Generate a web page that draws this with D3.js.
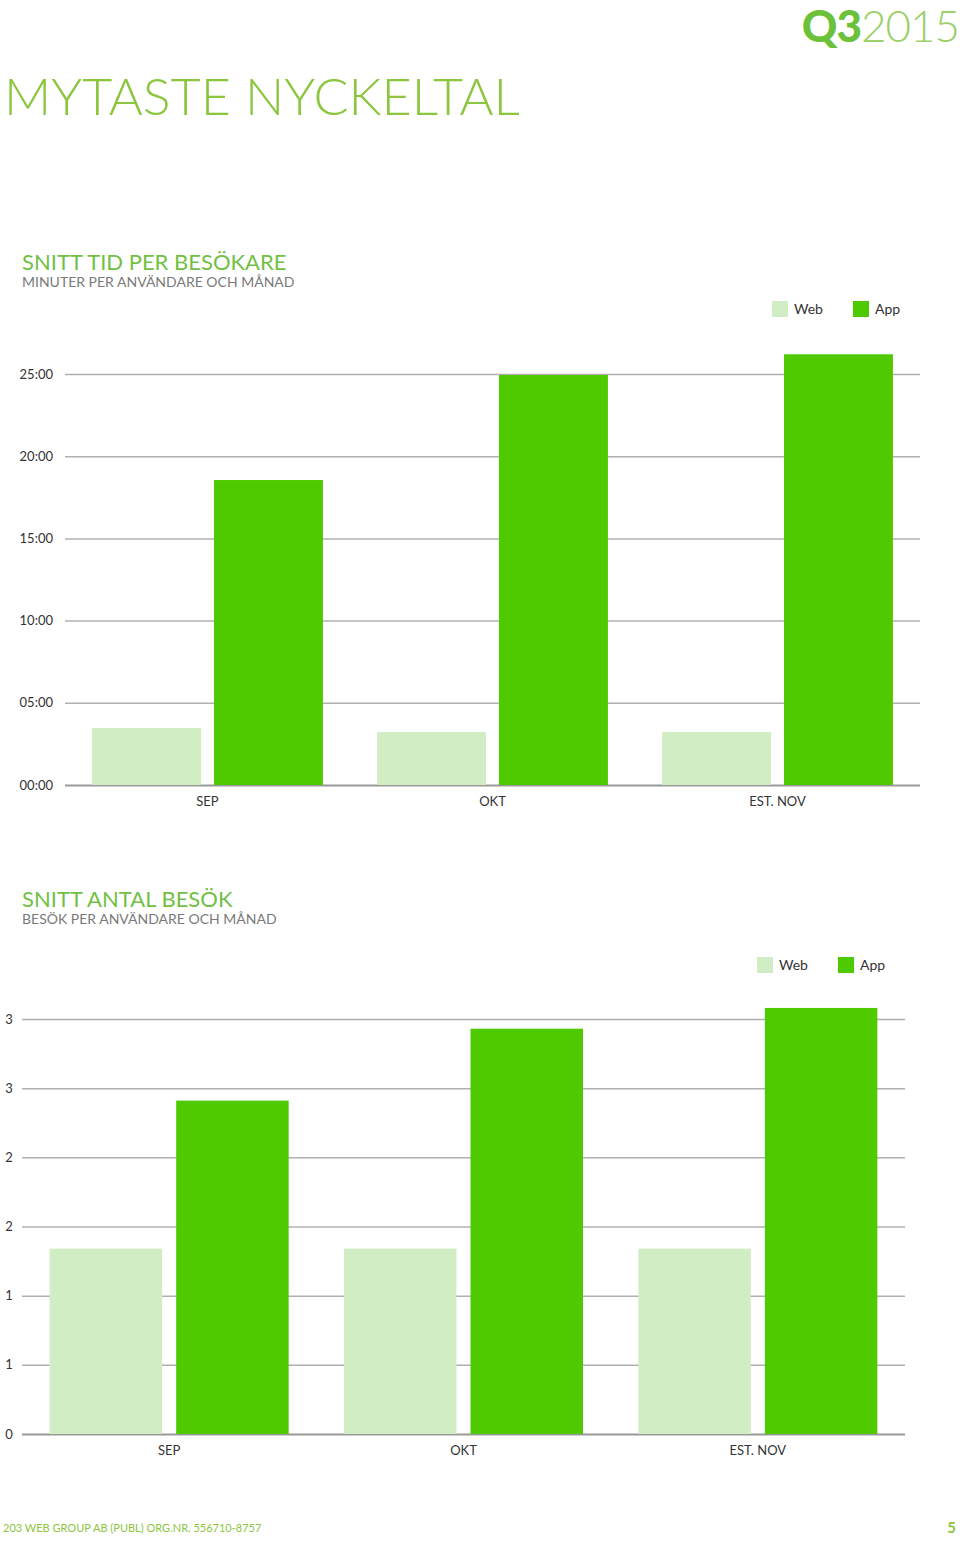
<!DOCTYPE html>
<html>
<head>
<meta charset="utf-8">
<script src="https://cdn.jsdelivr.net/npm/d3@7"></script>
<style>
  body { margin: 0; background: #fff; }
  svg { display: block; font-family: Lato, "Open Sans", sans-serif; }
</style>
</head>
<body>
<svg id="page" width="960" height="1541"></svg>
<script>
// data
const months = ["SEP", "OKT", "EST. NOV"];
const seriesNames = ["Web", "App"];

// chart 1: minutes per user and month
const timeWeb = [3.47, 3.22, 3.22];
const timeApp = [18.55, 24.94, 26.2];
const timeTicks = [0, 5, 10, 15, 20, 25];

// chart 2: visits per user and month
const visitWeb = [1.34, 1.34, 1.34];
const visitApp = [2.41, 2.93, 3.08];
const visitTicks = [0, 0.5, 1, 1.5, 2, 2.5, 3];

const WEB = "#d0edc4", APP = "#4fc900", TITLE = "#8cc63f", HEAD = "#72bf44";

const svg = d3.select("#page");

// header
const q = svg.append("text").attr("x", 959).attr("y", 42).attr("text-anchor", "end")
    .style("font-size", "44px").style("letter-spacing", "-1px");
q.append("tspan").style("font-weight", "900").style("fill", "#6cc13a").text("Q3");
q.append("tspan").style("font-weight", "300").style("fill", "#9bd06b").text("2015");

svg.append("text").attr("x", 4).attr("y", 115)
    .style("font-size", "52px").style("font-weight", "300").style("fill", TITLE)
    .text("MYTASTE NYCKELTAL");

function drawChart(cfg) {
    const { top, title, subtitle, web, app, ticks, domain, yRange, xRange, fmt, labelX, labelAnchor, legendX, legendY, padOuter, padInner } = cfg;

    svg.append("text").attr("x", 22).attr("y", top)
        .style("font-size", "22px").style("fill", HEAD).text(title);
    svg.append("text").attr("x", 22).attr("y", top + 17)
        .style("font-size", "14px").style("fill", "#7a7a7a").text(subtitle);

    const y = d3.scaleLinear().domain(domain).range(yRange);
    const x0 = d3.scaleBand().domain(months).range(xRange).paddingInner(padOuter).paddingOuter(padOuter / 2);
    const x1 = d3.scaleBand().domain(seriesNames).range([0, x0.bandwidth()]).paddingInner(padInner);
    const color = d3.scaleOrdinal().domain(seriesNames).range([WEB, APP]);

    // grid lines
    const grid = svg.append("g").attr("transform", `translate(${xRange[0]},0)`)
        .call(d3.axisLeft(y).tickValues(ticks).tickSize(-(xRange[1] - xRange[0])).tickFormat(""));
    grid.select(".domain").remove();
    grid.selectAll("line").attr("stroke", "#b0b0b0").attr("stroke-width", 1.5);
    grid.selectAll(".tick").filter(d => d === 0).select("line").attr("stroke", "#999").attr("stroke-width", 2);

    // tick labels
    svg.append("g").selectAll("text").data(ticks).join("text")
        .attr("x", labelX).attr("y", d => y(d)).attr("dy", "0.35em")
        .attr("text-anchor", labelAnchor)
        .style("font-size", "13px").style("fill", "#333")
        .text(fmt);

    // bars
    const rows = months.map((m, i) => ({ month: m, values: [{ key: "Web", v: web[i] }, { key: "App", v: app[i] }] }));
    svg.append("g").selectAll("g").data(rows).join("g")
        .attr("transform", d => `translate(${x0(d.month)},0)`)
        .selectAll("rect").data(d => d.values).join("rect")
        .attr("x", d => x1(d.key)).attr("width", x1.bandwidth())
        .attr("y", d => y(d.v)).attr("height", d => y(0) - y(d.v))
        .attr("fill", d => color(d.key));

    // x labels
    const xa = svg.append("g").attr("transform", `translate(0,${y(0)})`)
        .call(d3.axisBottom(x0).tickSize(0).tickPadding(12));
    xa.select(".domain").remove();
    xa.selectAll("text").style("font-size", "13px").style("fill", "#333").style("font-family", "Lato, sans-serif");

    // legend
    const legend = svg.append("g").attr("transform", `translate(${legendX},${legendY})`);
    seriesNames.forEach((s, i) => {
        const row = legend.append("g").attr("transform", `translate(${i * 81},0)`);
        row.append("rect").attr("width", 16).attr("height", 16).attr("fill", color(s));
        row.append("text").attr("x", 22).attr("y", 13).style("font-size", "14px").style("fill", "#333").text(s);
    });
}

drawChart({
    top: 270, title: "SNITT TID PER BESÖKARE", subtitle: "MINUTER PER ANVÄNDARE OCH MÅNAD",
    web: timeWeb, app: timeApp, ticks: timeTicks, domain: [0, 25], yRange: [785, 374], xRange: [65, 920],
    fmt: d => String(d).padStart(2, "0") + ":00", labelX: 53, labelAnchor: "end",
    legendX: 772, legendY: 301, padOuter: 0.19, padInner: 0.107
});

drawChart({
    top: 907, title: "SNITT ANTAL BESÖK", subtitle: "BESÖK PER ANVÄNDARE OCH MÅNAD",
    web: visitWeb, app: visitApp, ticks: visitTicks, domain: [0, 3], yRange: [1434, 1019], xRange: [22, 905],
    fmt: d3.format("d"), labelX: 9, labelAnchor: "middle",
    legendX: 757, legendY: 957, padOuter: 0.188, padInner: 0.111
});

// footer
svg.append("text").attr("x", 3).attr("y", 1532)
    .style("font-size", "11px").style("fill", TITLE)
    .text("203 WEB GROUP AB (PUBL)  ORG.NR. 556710-8757");
svg.append("text").attr("x", 956).attr("y", 1533).attr("text-anchor", "end")
    .style("font-size", "15px").style("font-weight", "700").style("fill", "#8cc63f").text("5");
</script>
</body>
</html>
